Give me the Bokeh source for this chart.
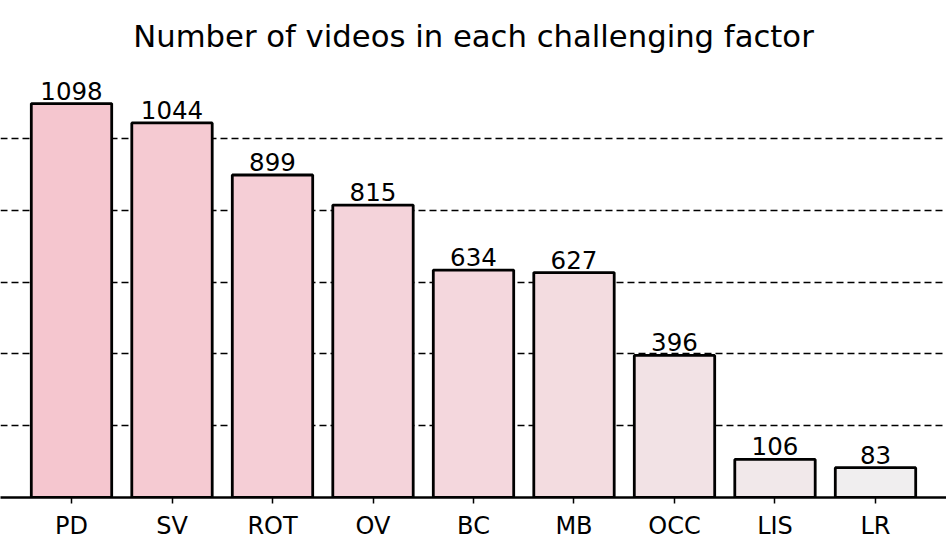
from bokeh.plotting import figure
from bokeh.models import ColumnDataSource, FixedTicker, LabelSet
from bokeh.core.properties import value
from bokeh.embed import file_html
from bokeh.resources import INLINE

categories = ["PD", "SV", "ROT", "OV", "BC", "MB", "OCC", "LIS", "LR"]
counts = [1098, 1044, 899, 815, 634, 627, 396, 106, 83]
colors = ["#f5c6cf", "#f5cad2", "#f5ced6", "#f4d3da", "#f4d7dd", "#f3dce0",
          "#f2e2e5", "#f1e8ea", "#f0eeef"]
grid_ticks = [200, 400, 600, 800, 1000]

FONT = "DejaVu Sans"

src = ColumnDataSource(dict(cat=categories, n=counts, color=colors,
                            lab=[str(c) for c in counts]))

p = figure(x_range=categories, y_range=(0, 1193), width=946, height=553,
           output_backend="svg", toolbar_location=None,
           y_axis_location=None,
           title="Number of videos in each challenging factor",
           min_border_left=0, min_border_right=0, min_border_bottom=56,
           min_border_top=0)
p.x_range.range_padding = 0.2065
p.x_range.range_padding_units = "absolute"

p.vbar(x="cat", top="n", width=0.8, bottom=0, source=src,
       fill_color="color", line_color="black", line_width=2.8)

labels = LabelSet(x="cat", y="n", text="lab", source=src, y_offset=4,
                  text_align="center", text_baseline="alphabetic",
                  text_font=value(FONT), text_font_size="24.5px",
                  text_color="black")
p.add_layout(labels)

p.title.align = "center"
p.title.text_font = FONT
p.title.text_font_size = "30.7px"
p.title.text_font_style = "normal"
p.title.text_color = "black"
p.title.standoff = 32

p.xgrid.visible = False
p.ygrid[0].ticker = FixedTicker(ticks=grid_ticks)
p.ygrid[0].grid_line_color = "black"
p.ygrid[0].grid_line_dash = "7 4"
p.ygrid[0].grid_line_width = 1.5

p.xaxis.axis_line_width = 2.5
p.xaxis.axis_line_color = "black"
p.xaxis.major_tick_line_width = 1.5
p.xaxis.major_tick_out = 6
p.xaxis.major_tick_in = 0
p.xaxis.major_label_text_font = FONT
p.xaxis.major_label_text_font_size = "24px"
p.xaxis.major_label_text_color = "black"
p.xaxis.major_label_standoff = 8

p.outline_line_color = None
p.background_fill_color = "white"
p.border_fill_color = "white"

open("out.html", "w").write(file_html(p, INLINE))
